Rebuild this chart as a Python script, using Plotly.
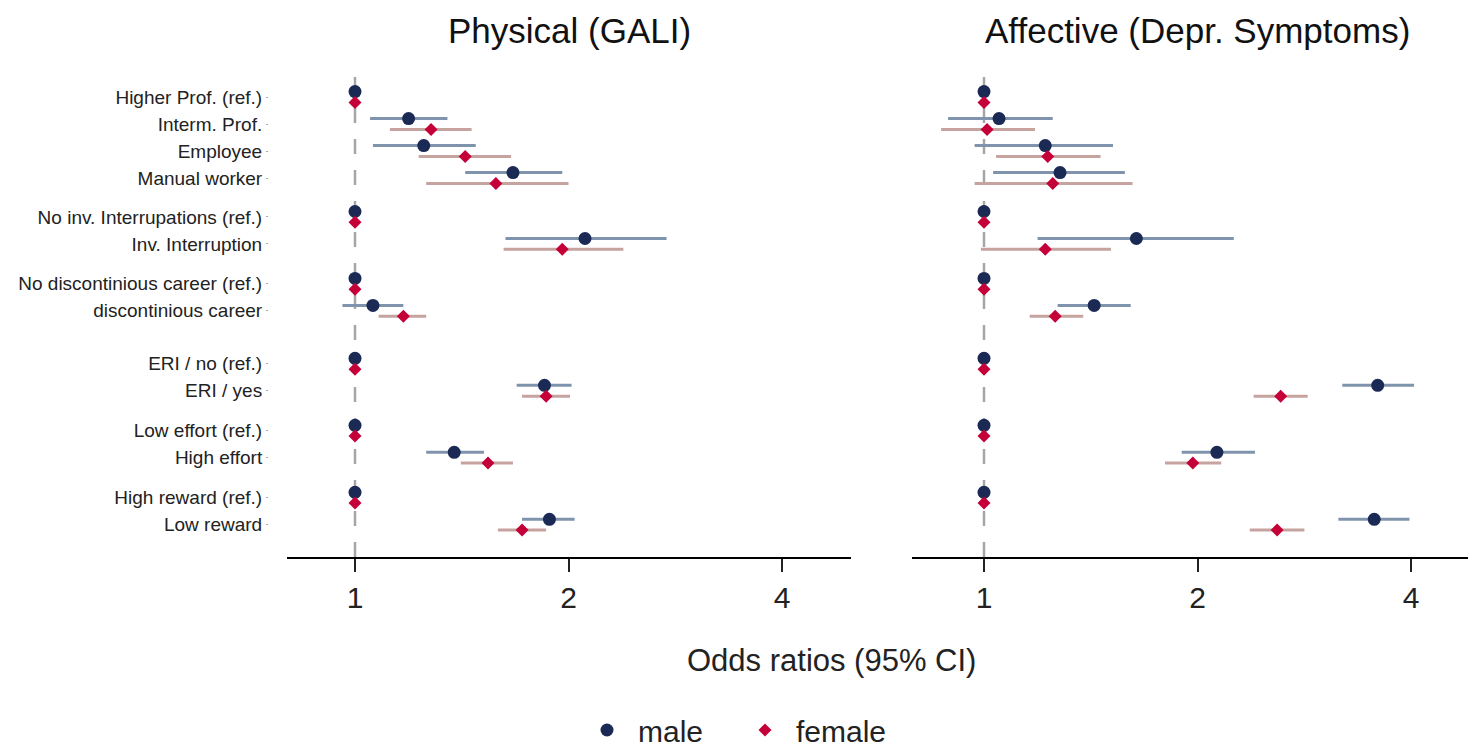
import math
import plotly.graph_objects as go

categories = ["Higher Prof. (ref.)", "Interm. Prof.", "Employee", "Manual worker",
              "No inv. Interrupations (ref.)", "Inv. Interruption",
              "No discontinious career (ref.)", "discontinious career",
              "ERI / no (ref.)", "ERI / yes",
              "Low effort (ref.)", "High effort",
              "High reward (ref.)", "Low reward"]
group_of = [0, 0, 0, 0, 1, 1, 2, 2, 3, 3, 4, 4, 5, 5]

# Physical (GALI)
phys_male    = [1, 1.19, 1.25, 1.67, 1, 2.11, 1, 1.06, 1, 1.85, 1, 1.38, 1, 1.88]
phys_male_lo = [1, 1.05, 1.06, 1.43, 1, 1.63, 1, 0.96, 1, 1.69, 1, 1.26, 1, 1.72]
phys_male_hi = [1, 1.35, 1.48, 1.96, 1, 2.75, 1, 1.17, 1, 2.02, 1, 1.52, 1, 2.04]
phys_fem     = [1, 1.28, 1.43, 1.58, 1, 1.96, 1, 1.17, 1, 1.86, 1, 1.54, 1, 1.72]
phys_fem_lo  = [1, 1.12, 1.23, 1.26, 1, 1.62, 1, 1.08, 1, 1.72, 1, 1.41, 1, 1.59]
phys_fem_hi  = [1, 1.46, 1.66, 2.00, 1, 2.39, 1, 1.26, 1, 2.01, 1, 1.67, 1, 1.86]

# Affective (Depr. Symptoms)
aff_male     = [1, 1.05, 1.22, 1.28, 1, 1.64, 1, 1.43, 1, 3.59, 1, 2.13, 1, 3.55]
aff_male_lo  = [1, 0.89, 0.97, 1.03, 1, 1.19, 1, 1.27, 1, 3.20, 1, 1.90, 1, 3.16]
aff_male_hi  = [1, 1.25, 1.52, 1.58, 1, 2.25, 1, 1.61, 1, 4.04, 1, 2.41, 1, 3.98]
aff_fem      = [1, 1.01, 1.23, 1.25, 1, 1.22, 1, 1.26, 1, 2.62, 1, 1.97, 1, 2.59]
aff_fem_lo   = [1, 0.87, 1.04, 0.97, 1, 0.99, 1, 1.16, 1, 2.40, 1, 1.80, 1, 2.37]
aff_fem_hi   = [1, 1.18, 1.46, 1.62, 1, 1.51, 1, 1.38, 1, 2.86, 1, 2.16, 1, 2.83]

x_ticks = [1, 2, 4]
panel_titles = ["Physical (GALI)", "Affective (Depr. Symptoms)"]
x_title = "Odds ratios (95% CI)"
series_names = ["male", "female"]

# ---- layout helpers (positions) ----
GROUP_GAPS = [0, 0.44, 0.48, 0.96, 0.48, 0.48]
ypos = []
for i, g in enumerate(group_of):
    ypos.append(i + sum(GROUP_GAPS[:g + 1]))
OFF = 0.2

W, H = 1468, 748
MALE_C = "#1b2a55"
MALE_CI = "#7f94ac"
FEM_C = "#c50039"
FEM_CI = "#c6a39f"
FONT = "Liberation Sans, Arial, sans-serif"

fig = go.Figure()

panels = [
    (phys_male, phys_male_lo, phys_male_hi, phys_fem, phys_fem_lo, phys_fem_hi, "x", "y"),
    (aff_male, aff_male_lo, aff_male_hi, aff_fem, aff_fem_lo, aff_fem_hi, "x2", "y2"),
]

def ci_segments(lo, hi, ys):
    xs, yy = [], []
    for a, b, y in zip(lo, hi, ys):
        if a == b:
            continue
        xs += [a, b, None]
        yy += [y, y, None]
    return xs, yy

for p, (m, mlo, mhi, f, flo, fhi, xa, ya) in enumerate(panels):
    ym = [y - OFF for y in ypos]
    yf = [y + OFF for y in ypos]
    xs, yy = ci_segments(mlo, mhi, ym)
    fig.add_trace(go.Scatter(x=xs, y=yy, mode="lines", line=dict(color=MALE_CI, width=3),
                             showlegend=False, hoverinfo="skip", xaxis=xa, yaxis=ya))
    xs, yy = ci_segments(flo, fhi, yf)
    fig.add_trace(go.Scatter(x=xs, y=yy, mode="lines", line=dict(color=FEM_CI, width=3),
                             showlegend=False, hoverinfo="skip", xaxis=xa, yaxis=ya))
    fig.add_trace(go.Scatter(x=m, y=ym, mode="markers", name=series_names[0],
                             marker=dict(symbol="circle", size=13, color=MALE_C),
                             showlegend=(p == 0), xaxis=xa, yaxis=ya))
    fig.add_trace(go.Scatter(x=f, y=yf, mode="markers", name=series_names[1],
                             marker=dict(symbol="diamond", size=10, color=FEM_C),
                             showlegend=(p == 0), xaxis=xa, yaxis=ya))

def log_range(px_left, px_right, px_one, ppd=213.5):
    return [math.log10(2) * (px_left - px_one) / ppd, math.log10(2) * (px_right - px_one) / ppd]

y_top_px, y_bot_px = 63, 557
row_px = 27
y0_px = 97
yr = [(y_bot_px - y0_px) / row_px, (y_top_px - y0_px) / row_px]

xaxis_common = dict(type="log", tickvals=x_ticks, ticktext=[str(v) for v in x_ticks],
                    showline=True, linecolor="black", linewidth=1.5,
                    ticks="outside", ticklen=13, tickwidth=1.5, tickcolor="#222",
                    showgrid=False, zeroline=False,
                    tickfont=dict(size=30, color="#222", family=FONT))

fig.update_layout(
    width=W, height=H,
    margin=dict(l=0, r=0, t=0, b=0),
    paper_bgcolor="white", plot_bgcolor="white",
    font=dict(family=FONT, color="#222"),
    xaxis=dict(domain=[287 / W, 851 / W], range=log_range(287, 851, 355), anchor="y", **xaxis_common),
    xaxis2=dict(domain=[912 / W, 1.0], range=log_range(912, 1468, 984), anchor="y2", **xaxis_common),
    yaxis=dict(domain=[1 - y_bot_px / H, 1 - y_top_px / H], range=yr,
               tickvals=ypos, ticktext=categories, anchor="free", position=268 / W,
               showline=False, showgrid=False, zeroline=False,
               ticks="outside", ticklen=2, tickcolor="#aaa", tickwidth=1,
               tickfont=dict(size=19, color="#222", family=FONT)),
    yaxis2=dict(domain=[1 - y_bot_px / H, 1 - y_top_px / H], range=yr, anchor="x2",
                showticklabels=False, showline=False, showgrid=False, zeroline=False),
    legend=dict(orientation="h", x=734 / W, xanchor="center", y=0, yanchor="bottom",
                font=dict(size=30, color="#222", family=FONT), entrywidth=91,
                itemwidth=52, bgcolor="rgba(0,0,0,0)"),
    showlegend=True,
)

for xa in ["x", "x2"]:
    fig.add_shape(type="line", xref=xa, yref="paper", x0=1, x1=1,
                  y0=1 - y_bot_px / H, y1=1 - y_top_px / H,
                  line=dict(color="#a6a6a6", width=2.5, dash="15px,16px"), layer="below")

fig.add_annotation(x=569 / W, y=1 - 30 / H, xref="paper", yref="paper", text=panel_titles[0],
                   xanchor="center", yanchor="middle",
                   showarrow=False, font=dict(size=35, color="#111", family=FONT))
fig.add_annotation(x=1197 / W, y=1 - 30 / H, xref="paper", yref="paper", text=panel_titles[1],
                   xanchor="center", yanchor="middle",
                   showarrow=False, font=dict(size=35, color="#111", family=FONT))
fig.add_annotation(x=831 / W, y=1 - 660 / H, xref="paper", yref="paper", text=x_title,
                   xanchor="center", yanchor="middle",
                   showarrow=False, font=dict(size=31, color="#222", family=FONT))

post = """
document.body.style.margin='0';
(function(){
  function shiftLegend(){
    var lg = document.querySelector('g.legend');
    if(!lg || lg.getAttribute('data-shifted')) return;
    var t = lg.getAttribute('transform') || '';
    var m = /translate\\(\\s*([-\\d.eE]+)[ ,]+([-\\d.eE]+)\\s*\\)/.exec(t);
    if(!m) return;
    lg.setAttribute('transform', 'translate(' + m[1] + ',' + (parseFloat(m[2]) + 8) + ')');
    lg.setAttribute('data-shifted', '1');
  }
  var gd = document.getElementById('{plot_id}');
  shiftLegend();
  if(gd && gd.on){ gd.on('plotly_afterplot', shiftLegend); }
  setTimeout(shiftLegend, 50);
})();
"""

fig.write_html("out.html", post_script=post, config={"displayModeBar": False})
